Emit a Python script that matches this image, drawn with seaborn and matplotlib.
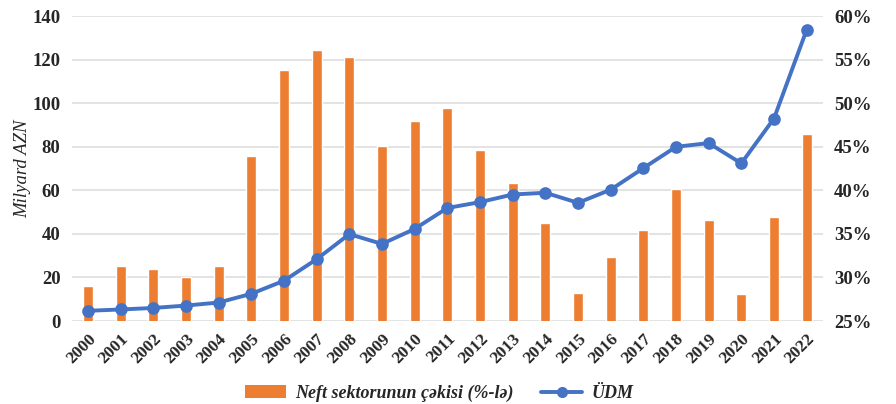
import numpy as np
import pandas as pd
import matplotlib
matplotlib.use("Agg")
import matplotlib.pyplot as plt
import seaborn as sns
from matplotlib.ticker import FuncFormatter
from matplotlib.lines import Line2D
from matplotlib.patches import Patch

# Data
years = [str(y) for y in range(2000, 2023)]
oil_share = [29.0, 31.3, 31.0, 30.0, 31.3, 44.0, 53.8, 56.1, 55.3, 45.1, 48.0, 49.5,
             44.6, 40.8, 36.2, 28.2, 32.3, 35.5, 40.1, 36.6, 28.1, 36.9, 46.5]
gdp = [4.7, 5.3, 6.0, 7.1, 8.5, 12.5, 18.5, 28.4, 39.9, 35.4, 42.3, 51.9,
       54.6, 58.1, 58.9, 54.3, 60.3, 70.2, 80.0, 81.7, 72.4, 93.0, 133.7]

bar_color = "#ED7D31"
line_color = "#4472C4"

df = pd.DataFrame({"year": years, "oil": oil_share, "gdp": gdp})

sns.set_theme(style="white")
plt.rcParams['font.family'] = ['Liberation Serif', 'DejaVu Serif']

fig = plt.figure(figsize=(8.96, 4.04), dpi=100)
ax = fig.add_axes([0.080, 0.2054, 0.8385, 0.7546])
ax2 = ax.twinx()

# bars on the right (%) axis, drawn underneath the line
ax2.set_zorder(1)
ax.set_zorder(2)
ax.patch.set_visible(False)

sns.barplot(data=df, x="year", y="oil", color=bar_color, width=0.31,
            saturation=1, ax=ax2, zorder=3)
ax2.set_ylim(25, 60)
ax2.set_yticks(np.arange(25, 61, 5))
ax2.yaxis.set_major_formatter(FuncFormatter(lambda v, p: f"{v:.0f}%"))
ax2.grid(axis="y", color="#DEDEDE", linewidth=1.2, zorder=0)
ax2.set_axisbelow(True)
ax2.set_ylabel("")

sns.pointplot(data=df, x="year", y="gdp", color=line_color, errorbar=None,
              markersize=7, linewidth=2.8, ax=ax)
ax.set_ylim(0, 140)
ax.set_yticks(np.arange(0, 141, 20))
ax.set_xlim(-0.5, len(years) - 0.5)
ax.set_xlabel("")
ax.set_ylabel("Milyard AZN", fontsize=13.5, fontstyle="italic", labelpad=1)

for a in (ax, ax2):
    for s in a.spines.values():
        s.set_visible(False)
    a.tick_params(axis="both", length=0)

ax.tick_params(axis="y", labelsize=13.5, pad=8)
ax2.tick_params(axis="y", labelsize=13.5, pad=8)
for lab in ax.get_yticklabels() + ax2.get_yticklabels():
    lab.set_fontweight("bold")

ax.set_xticks(range(len(years)))
ax.set_xticklabels(years, rotation=45, ha="right", rotation_mode="anchor",
                   fontsize=12.5, fontweight="bold")
ax.tick_params(axis="x", pad=7)
ax2.tick_params(axis="x", labelbottom=False)

handles = [Patch(facecolor=bar_color, edgecolor="none"),
           Line2D([0], [0], color=line_color, linewidth=2.8, marker="o", markersize=7)]
fig.legend(handles, ["Neft sektorunun çəkisi (%-lə)", "ÜDM"],
           loc="lower center", bbox_to_anchor=(0.49, -0.035), ncol=2, frameon=False,
           prop={"weight": "bold", "style": "italic", "size": 13},
           handlelength=2.3, handletextpad=0.5, columnspacing=1.5)

fig.savefig("out.png", dpi=100)
